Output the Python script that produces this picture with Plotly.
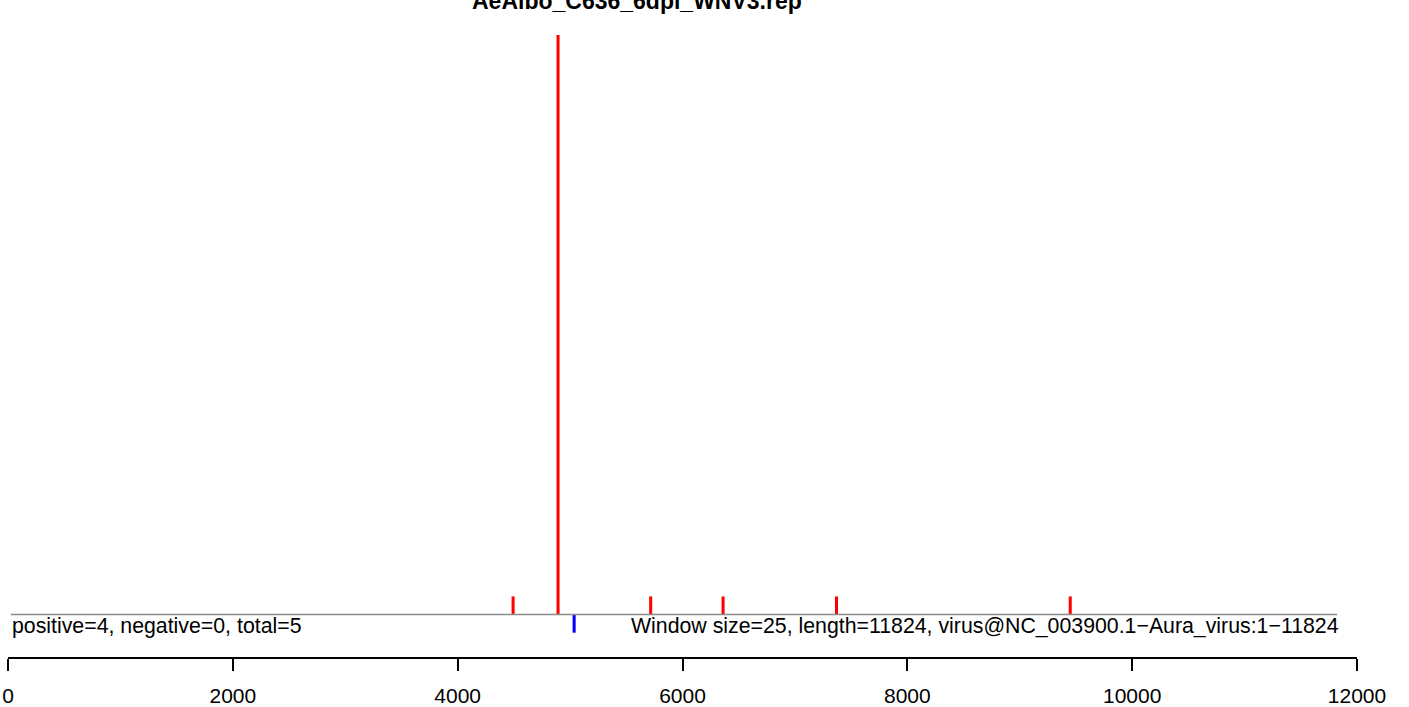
import plotly.graph_objects as go

# ---- data ----
title_text = "AeAlbo_C636_6dpi_WNV3.rep"
pos_x = [4493, 4893, 5717, 6361, 7370, 9449]
pos_y = [1, 32, 1, 1, 1, 1]
neg_x = [5036]
neg_y = [-1]
baseline_x = [25, 11824]
baseline_y = [0, 0]
tick_vals = [0, 2000, 4000, 6000, 8000, 10000, 12000]
tick_text = ["0", "2000", "4000", "6000", "8000", "10000", "12000"]
left_label = "positive=4, negative=0, total=5"
right_label = "Window size=25, length=11824, virus@NC_003900.1\u2212Aura_virus:1\u221211824"

FONT = "Arial, Liberation Sans, sans-serif"

fig = go.Figure()
fig.add_trace(go.Scatter(x=baseline_x, y=baseline_y, mode="lines",
                         line=dict(color="#8c8c8c", width=1.5), hoverinfo="skip"))
fig.add_trace(go.Bar(x=pos_x, y=pos_y, base=0, width=27,
                     marker=dict(color="#ff0000", line=dict(width=0))))
fig.add_trace(go.Bar(x=neg_x, y=neg_y, base=0, width=27,
                     marker=dict(color="#0000ff", line=dict(width=0))))

fig.add_annotation(x=15, y=-0.62, xref="x", yref="y", text=left_label,
                   showarrow=False, xanchor="left", yanchor="middle",
                   font=dict(family=FONT, size=21.3, color="black"))
fig.add_annotation(x=11824, y=-0.62, xref="x", yref="y", text=right_label,
                   showarrow=False, xanchor="right", yanchor="middle", xshift=4,
                   font=dict(family=FONT, size=21.3, color="black"))
fig.add_annotation(x=0.4663, y=1.0305, xref="paper", yref="paper",
                   text="<b>" + title_text + "</b>", showarrow=False,
                   xanchor="center", yanchor="bottom",
                   font=dict(family=FONT, size=23, color="black"))

fig.update_layout(
    width=1409, height=707,
    margin=dict(l=8, r=52, t=35, b=50, autoexpand=False),
    paper_bgcolor="white", plot_bgcolor="white",
    showlegend=False, barmode="overlay",
    font=dict(family=FONT, size=21, color="black"),
)
fig.update_xaxes(range=[0, 12000], showgrid=False, zeroline=False, automargin=False,
                 showline=True, linecolor="black", linewidth=2,
                 ticks="outside", ticklen=12, tickwidth=1.5, tickcolor="black",
                 ticklabelstandoff=7,
                 tickvals=tick_vals, ticktext=tick_text,
                 tickfont=dict(family=FONT, size=21, color="black"))
fig.update_yaxes(range=[-2.343, 32], visible=False, showgrid=False, zeroline=False,
                 automargin=False)

fig.write_html("out.html", config={"displayModeBar": False},
               post_script="document.body.style.margin='0px';document.body.style.overflow='hidden';")
